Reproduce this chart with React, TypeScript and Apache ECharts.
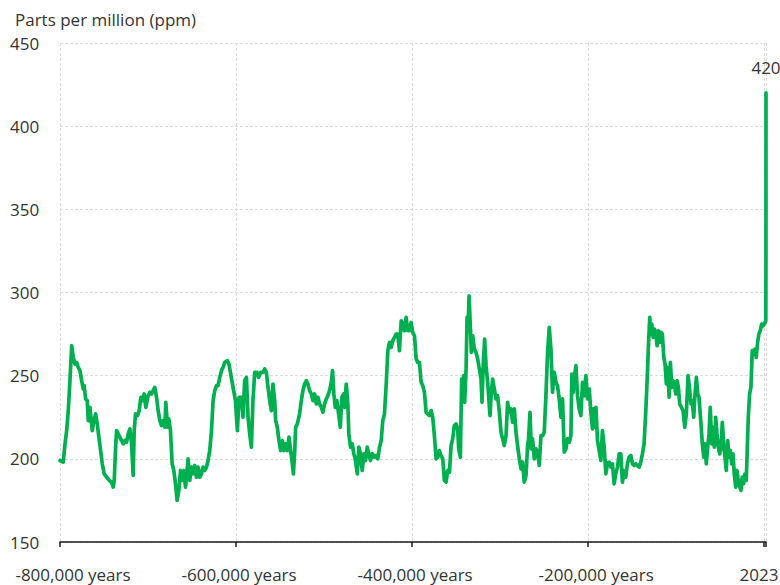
import React, { useEffect, useRef } from 'react';
import * as echarts from 'echarts';

// Time in thousands of years (negative = BCE), CO2 concentration in ppm
const kyr = [
  -800, -796.3, -794.3, -792.4, -790.6, -788.7, -786.7, -784.9, -783.0, -781.1, -779.3, -777.3, -775.4, -773.6, -772.5, -770.9,
  -769.1, -767.9, -766.0, -764.9, -763.4, -761.5, -759.5, -757.7, -755.8, -753.9, -752.0, -749.8, -747.0, -744.1, -741.4, -739.6,
  -738.4, -736.8, -735.7, -733.9, -732.0, -730.0, -728.2, -726.3, -724.4, -722.5, -720.6, -718.7, -716.9, -715.7, -714.2, -711.9,
  -710.1, -708.1, -706.2, -704.4, -702.5, -699.9, -697.9, -696.0, -694.2, -692.3, -690.3, -688.5, -686.6, -684.7, -682.8, -680.9,
  -679.8, -677.9, -676.4, -674.5, -672.6, -670.7, -668.8, -667.0, -665.0, -663.1, -661.3, -659.4, -657.4, -655.6, -654.5, -652.6,
  -650.6, -648.8, -646.9, -645.0, -643.1, -641.2, -639.3, -637.5, -635.5, -633.6, -631.8, -629.9, -627.9, -626.1, -624.2, -622.3,
  -620.5, -618.5, -616.6, -614.8, -612.9, -609.8, -608.0, -606.1, -603.4, -600.7, -598.5, -596.6,
  -593.9, -592.1, -590.2, -588.2, -586.4, -584.5, -582.6, -580.8, -578.8, -576.2, -574.3, -572.0, -569.4, -567.5, -565.6, -563.7,
  -561.8, -559.9, -558.1, -556.1, -555.0, -553.1, -551.3, -549.3, -547.4, -545.6, -543.7, -541.7, -539.9, -538.0, -536.5, -534.9,
  -533.5, -532.3, -530.4, -527.8, -525.9, -524.0, -522.1, -520.2, -518.4, -516.4, -514.5, -512.7, -510.8, -508.8, -507.0, -505.1,
  -503.2, -501.4, -499.4, -497.5, -495.7, -493.8, -491.8, -490.4, -488.9, -487.3, -485.5, -483.5, -481.6, -479.8, -477.9, -476.7,
  -474.8, -473.0, -471.9, -469.9, -468.0, -466.2, -464.3, -462.3, -460.5, -458.6, -456.7, -454.8, -452.9, -451.0, -449.2, -447.3,
  -445.3, -442.7, -440.8, -439.0, -437.0, -435.1, -433.3, -431.4, -429.4, -427.6, -425.7, -423.8, -422.0, -420.0, -418.1, -416.3,
  -414.4, -412.4, -410.6, -408.7, -406.8, -404.9, -403.0,
  -401.1, -399.3, -397.3, -395.4, -393.6, -391.7, -389.7, -387.9, -386.0, -384.1, -382.3, -380.3, -378.4, -376.6, -374.7, -372.7,
  -370.9, -369.0, -367.1, -365.2, -363.3, -361.4, -359.6, -357.6, -355.7, -353.9, -352.0, -350.0, -348.2, -347.1, -345.2, -343.7,
  -342.6, -341.4, -340.3, -338.7, -337.6, -336.4, -335.3, -334.2, -332.7, -331.2, -329.3, -327.4, -325.5, -323.6, -321.7, -320.6,
  -319.1, -317.6, -316.0, -314.2, -313.1, -311.5, -310.0, -308.5, -306.6, -304.7, -302.9, -300.9, -299.0, -297.2, -295.3, -293.3,
  -291.5, -289.6, -287.7, -285.8, -283.9, -282.0, -280.2, -278.2, -276.3, -274.5, -272.6, -270.6, -268.8, -267.7, -266.1, -264.6,
  -263.2, -261.2, -259.3, -257.5, -255.6, -253.6, -251.8, -249.9, -248.0, -246.1, -244.2, -242.3, -240.5, -238.5, -236.6, -234.8,
  -232.9, -230.9, -229.1, -227.2, -225.3, -223.5, -221.5, -219.6, -218.5, -217.0, -215.5, -213.9, -212.1, -210.2, -208.3, -206.4,
  -204.5, -202.6, -200.8, -198.8, -196.9, -195.1, -194.0,
  -193.2, -191.2, -189.4, -187.5, -185.6, -183.8, -181.8, -179.9, -178.1, -176.2, -174.2, -172.4, -170.5, -168.6, -166.7, -164.8,
  -162.9, -161.1, -159.1, -157.2, -155.4, -153.5, -151.5, -149.7, -147.8, -145.9, -144.1, -142.1, -140.2, -138.4, -136.5, -134.5,
  -132.7, -131.6, -130.0, -128.9, -127.7, -126.2, -124.8, -123.2, -121.7, -120.2, -118.6, -117.2, -115.7, -114.1, -112.6, -111.2,
  -109.6, -108.1, -106.6, -105.0, -103.6, -102.1, -100.5, -99.0, -97.5, -96.0, -94.1, -92.2, -90.3, -88.5, -86.5, -84.6,
  -83.1, -81.7, -80.1, -78.6, -77.1, -75.5, -74.1, -72.1, -70.3, -68.7, -67.3, -65.8, -64.2, -62.7, -61.3, -59.7,
  -58.2, -56.7, -55.1, -53.7, -52.2, -50.6, -49.1, -47.6, -46.1, -44.6, -43.1, -41.5, -40.0, -38.6, -37.0, -35.5,
  -34.0, -32.4, -31.0, -29.5, -27.9, -26.4, -25.0, -23.4, -21.9, -20.4, -19.3, -18.1, -16.6, -15.1, -13.6, -12.0,
  -10.5, -9.1, -7.5, -6.0, -4.5, -2.9, -1.0, 1.8, 1.96, 2.0, 2.023,
];

const ppm = [
  199, 198, 209, 217, 229, 247, 268, 261, 257, 258, 255, 253, 247, 242, 244, 236,
  235, 223, 231, 225, 217, 223, 227, 221, 213, 205, 197, 191, 189, 187, 186, 183,
  187, 207, 217, 215, 213, 211, 209, 211, 210, 215, 218, 209, 190, 217, 227, 226,
  229, 237, 235, 239, 231, 238, 240, 239, 241, 243, 237, 229, 223, 220, 223, 219,
  234, 219, 224, 217, 197, 193, 185, 175, 181, 193, 187, 193, 183, 193, 200, 187,
  195, 191, 196, 189, 195, 189, 191, 195, 193, 195, 199, 205, 217, 235, 241, 244,
  244, 249, 253, 255, 258, 259, 257, 251, 243, 235, 217, 237,
  237, 225, 247, 249, 225, 215, 207, 235, 252, 252, 249, 252, 252, 254, 252, 243,
  235, 229, 245, 235, 223, 219, 211, 205, 211, 205, 209, 205, 213, 205, 199, 191,
  203, 219, 221, 227, 235, 241, 245, 247, 245, 241, 239, 235, 239, 233, 237, 233,
  231, 228, 233, 236, 238, 241, 246, 253, 239, 231, 235, 227, 219, 237, 239, 231,
  245, 233, 215, 207, 209, 203, 199, 191, 207, 203, 193, 203, 199, 207, 203, 199,
  203, 201, 202, 200, 207, 211, 223, 227, 245, 265, 270, 267, 271, 273, 275, 275,
  265, 283, 281, 277, 285, 277, 277,
  282, 276, 274, 260, 258, 258, 246, 244, 240, 228, 227, 226, 229, 225, 214, 200,
  201, 205, 202, 200, 187, 186, 193, 192, 208, 212, 220, 221, 218, 206, 201, 248,
  238, 250, 234, 254, 285, 280, 298, 284, 264, 274, 266, 264, 260, 254, 248, 234,
  258, 272, 256, 246, 238, 226, 240, 248, 242, 236, 238, 228, 216, 212, 208, 214,
  234, 228, 230, 222, 230, 216, 208, 200, 194, 198, 186, 190, 208, 212, 228, 206,
  212, 200, 206, 204, 196, 214, 214, 216, 238, 264, 279, 266, 240, 252, 246, 244,
  236, 225, 236, 204, 206, 212, 210, 214, 251, 240, 250, 256, 238, 230, 226, 246,
  238, 250, 236, 242, 228, 218, 230,
  219, 231, 211, 205, 199, 217, 207, 191, 197, 198, 195, 197, 185, 191, 195, 203,
  203, 186, 193, 189, 197, 201, 202, 197, 196, 197, 196, 195, 198, 203, 209, 229,
  251, 267, 285, 275, 281, 273, 278, 276, 268, 277, 270, 276, 275, 261, 257, 245,
  255, 237, 258, 243, 247, 245, 239, 247, 243, 233, 231, 229, 219, 227, 250, 241,
  233, 235, 225, 239, 249, 239, 237, 223, 209, 201, 209, 197, 207, 215, 231, 209,
  219, 207, 225, 215, 207, 203, 207, 222, 209, 201, 193, 211, 201, 205, 197, 203,
  191, 183, 193, 187, 183, 181, 189, 185, 191, 187, 205, 225, 239, 243, 265, 263,
  266, 261, 270, 275, 277, 281, 280, 283, 317, 369, 420,
];

const xTickValues = [-800000, -600000, -400000, -200000, 2023];
const xTickLabels = ['-800,000 years', '-600,000 years', '-400,000 years', '-200,000 years', '2023'];
const yTickValues = [150, 200, 250, 300, 350, 400, 450];
const titleText = 'Parts per million (ppm)';
const latestLabel = '420';

const FONT = '"Open Sans", "Noto Sans", sans-serif';
const TEXT = '#333333';
const GREEN = '#00b050';

export default function App() {
  const ref = useRef<HTMLDivElement>(null);

  useEffect(() => {
    if (!ref.current) return;
    const chart = echarts.init(ref.current, undefined, { renderer: 'svg' });

    const data: any[] = kyr.map((k, i) => [Math.round(k * 1000), ppm[i]]);
    const last = data[data.length - 1];

    // per-label horizontal nudges (px) to match the reference placement
    const shifts = [13, 3, 3, 8, -7];
    const rich: any = {};
    shifts.forEach((s, i) => {
      rich['l' + i] = {
        fontFamily: FONT,
        fontSize: 17,
        color: TEXT,
        padding: s >= 0 ? [0, 0, 0, 2 * s] : [0, -2 * s, 0, 0],
      };
    });

    chart.setOption({
      animation: false,
      backgroundColor: '#ffffff',
      title: {
        text: titleText,
        left: 10,
        top: 6,
        textStyle: { fontFamily: FONT, fontSize: 17, fontWeight: 'normal', color: TEXT },
      },
      grid: {
        left: 60,
        right: 14,
        top: 43,
        bottom: 43,
        containLabel: false,
        outerBoundsMode: 'none',
      },
      xAxis: {
        type: 'value',
        min: -800000,
        max: 2023,
        interval: 200000,
        axisLine: { show: true, onZero: false, lineStyle: { color: '#1a1a1a', width: 1.5 } },
        axisTick: { show: true, length: 5, lineStyle: { color: '#1a1a1a', width: 1.5 } },
        axisLabel: {
          margin: 24,
          fontFamily: FONT,
          fontSize: 17,
          color: TEXT,
          rich,
          formatter: (v: number) => {
            const idx = xTickValues.indexOf(v);
            if (idx < 0) return '';
            return '{l' + idx + '|' + xTickLabels[idx] + '}';
          },
        },
        splitLine: { show: true, lineStyle: { color: '#dcdcdc', type: [3, 2], width: 1 } },
      },
      yAxis: {
        type: 'value',
        min: yTickValues[0],
        max: yTickValues[yTickValues.length - 1],
        interval: 50,
        axisLine: { show: false },
        axisTick: { show: false },
        axisLabel: {
          align: 'left',
          margin: 50,
          fontFamily: FONT,
          fontSize: 17,
          color: TEXT,
          padding: [0, 0, 3, 0],
        },
        splitLine: { show: true, lineStyle: { color: '#dcdcdc', type: [3, 2], width: 1 } },
      },
      series: [
        {
          type: 'line',
          data,
          showSymbol: false,
          symbol: 'none',
          lineStyle: { color: GREEN, width: 3.7, join: 'round', cap: 'round' },
          itemStyle: { color: GREEN },
          emphasis: { disabled: true },
          markPoint: {
            symbol: 'circle',
            symbolSize: 0,
            silent: true,
            data: [
              {
                coord: last,
                label: {
                  show: true,
                  position: 'top',
                  distance: 17,
                  formatter: latestLabel,
                  fontFamily: FONT,
                  fontSize: 17,
                  color: TEXT,
                },
              },
            ],
          },
        },
      ],
    });

    return () => chart.dispose();
  }, []);

  return (
    <div
      ref={ref}
      style={{ position: 'fixed', left: 0, top: 0, width: 780, height: 585, background: '#fff' }}
    />
  );
}
